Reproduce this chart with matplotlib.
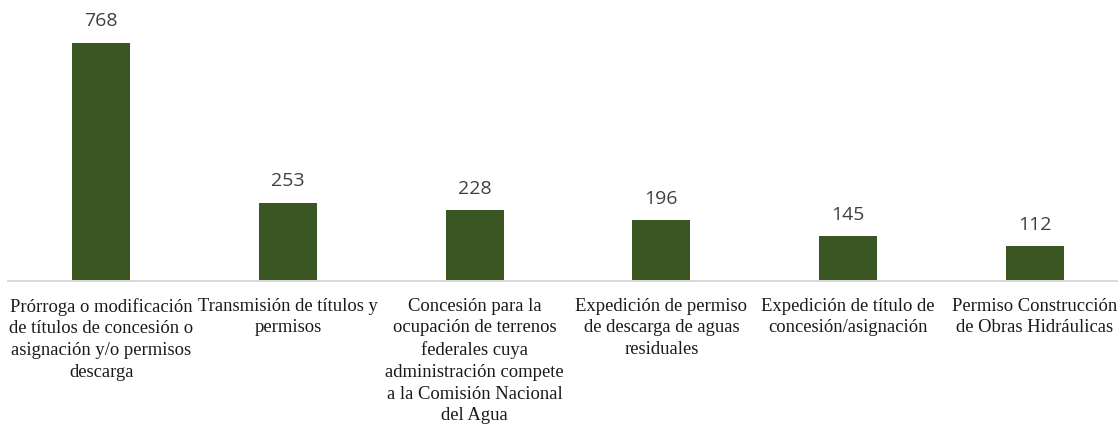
import matplotlib
matplotlib.use("Agg")
import matplotlib.pyplot as plt

categories = [
    "Prórroga o modificación\nde títulos de concesión o\nasignación y/o permisos\ndescarga",
    "Transmisión de títulos y\npermisos",
    "Concesión para la\nocupación de terrenos\nfederales cuya\nadministración compete\na la Comisión Nacional\ndel Agua",
    "Expedición de permiso\nde descarga de aguas\nresiduales",
    "Expedición de título de\nconcesión/asignación",
    "Permiso Construcción\nde Obras Hidráulicas",
]
values = [768, 253, 228, 196, 145, 112]

bar_color = "#3A5723"

fig = plt.figure(figsize=(11.18, 4.26), dpi=100)
# axes spans slightly past the right edge, like the cropped original
ax = fig.add_axes([8 / 1118, 145 / 426, 1120 / 1118, 248 / 426])

x = list(range(len(values)))
bars = ax.bar(x, values, width=0.31, color=bar_color)

for xi, v in zip(x, values):
    ax.annotate(str(v), (xi, v), xytext=(0, 9), textcoords="offset points",
                ha="center", va="bottom", fontsize=14, color="#404040",
                family="Open Sans")

ax.set_xlim(-0.5, len(values) - 0.5)
ax.set_ylim(0, 800)
ax.set_yticks([])
ax.set_xticks([])

for s in ["top", "left", "right"]:
    ax.spines[s].set_visible(False)
ax.spines["bottom"].set_color("#D9D9D9")
ax.spines["bottom"].set_linewidth(1.4)

for xi, label in zip(x, categories):
    ax.annotate(label, (xi, 0), xytext=(0, -12), textcoords="offset points",
                ha="center", va="top", fontsize=13.4, family="Liberation Serif",
                color="#1a1a1a", linespacing=1.36, multialignment="center")

fig.savefig("out.png", dpi=100)
